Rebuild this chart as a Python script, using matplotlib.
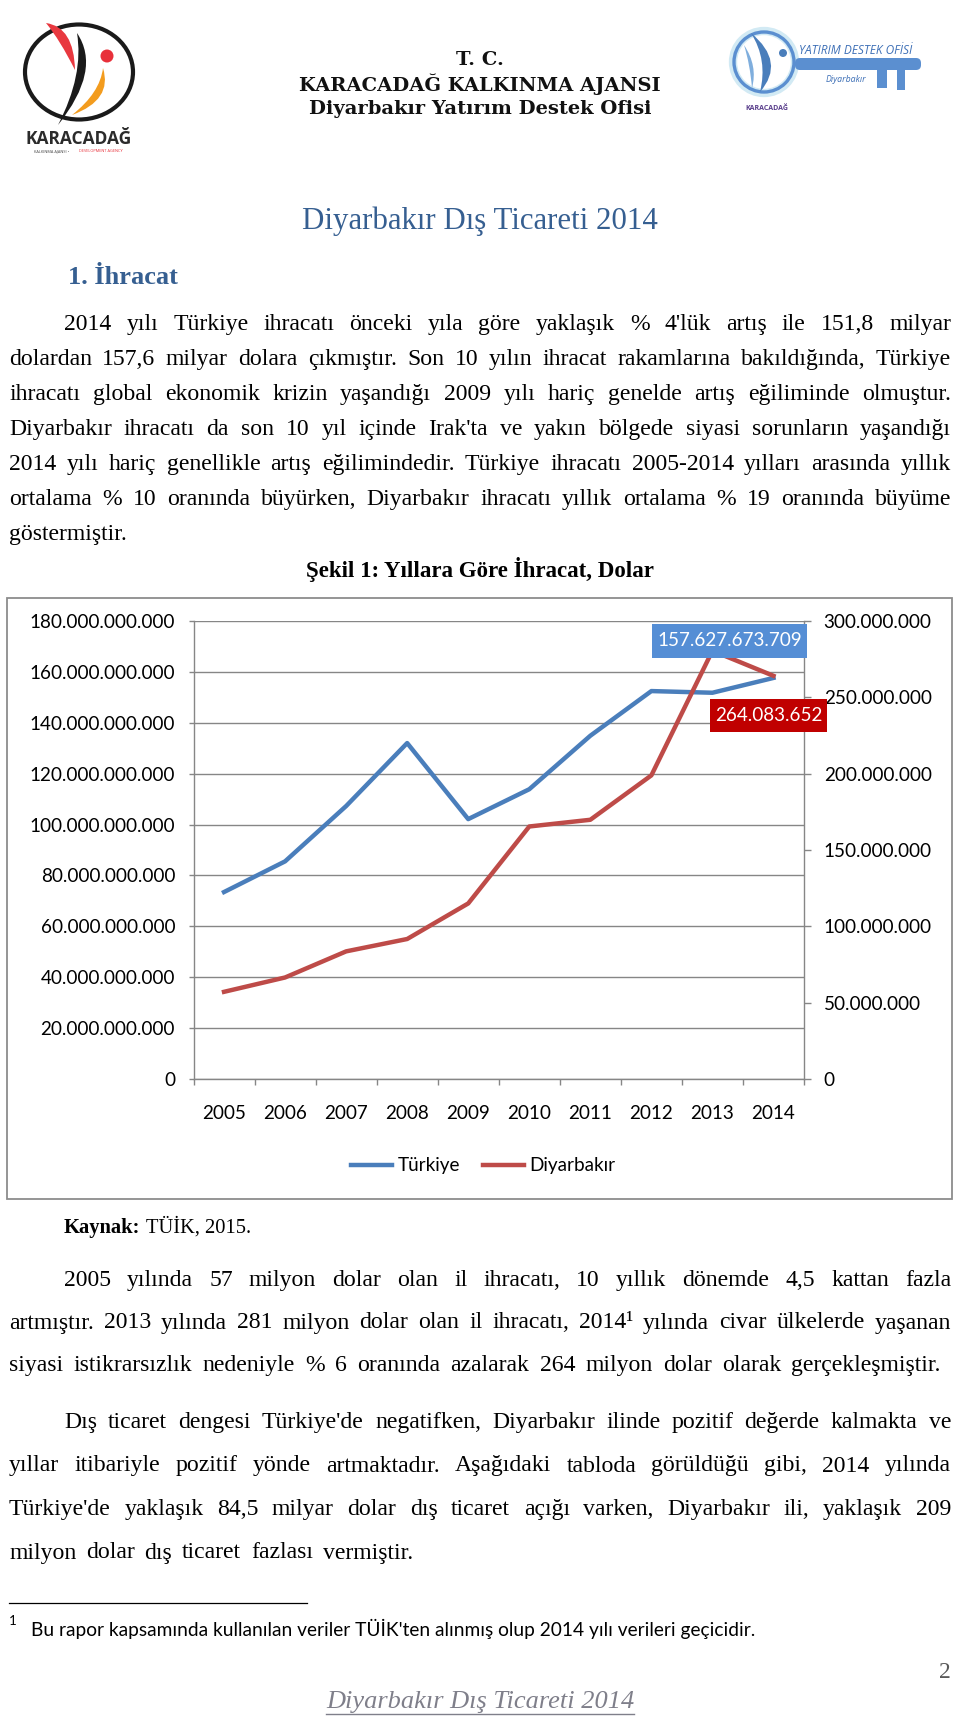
import matplotlib
matplotlib.use('Agg')
import numpy as np
import matplotlib.pyplot as plt
import matplotlib.ticker as mticker
from matplotlib.patches import Ellipse, Circle, Rectangle, FancyBboxPatch, PathPatch
from matplotlib.path import Path

# data (USD)
years = ['2005', '2006', '2007', '2008', '2009', '2010', '2011', '2012', '2013', '2014']
turkiye = [73476408143, 85534675518, 107271749904, 132027195527, 102142612603,
           113883219184, 134906868830, 152461736556, 151802637087, 157627673709]
diyarbakir = [57100000, 66500000, 83600000, 91700000, 115000000,
              165400000, 169800000, 198900000, 280500000, 264083652]
left_ticks = list(range(0, 180000000001, 20000000000))
right_ticks = list(range(0, 300000001, 50000000))

W, H = 960, 1718
BODY = 'Liberation Serif'
CHART = 'Lato'
fs_body = 17.1
fs_chart = 13.6

fig = plt.figure(figsize=(W / 100, H / 100), dpi=100)
page = fig.add_axes([0, 0, 1, 1])
page.set_xlim(0, W)
page.set_ylim(H, 0)
page.axis('off')
page.set_zorder(0)
rend = fig.canvas.get_renderer()


def crescent(p0, p1, c_out, c_in, color, ax):
    verts = [p0, c_out, p1, c_in, p0]
    codes = [Path.MOVETO, Path.CURVE3, Path.CURVE3, Path.CURVE3, Path.CURVE3]
    ax.add_patch(PathPatch(Path(verts, codes), fc=color, ec='none'))


# left logo
page.add_patch(Ellipse((79, 72), 108, 95, fill=False, ec='#1a1a1a', lw=3))
crescent((46, 23), (75, 70), (74, 27), (60, 40), '#E8383F', page)
crescent((77, 33), (58, 125), (102, 70), (84, 75), '#1a1a1a', page)
crescent((103, 68), (72, 115), (113, 100), (100, 93), '#F39C1E', page)
page.add_patch(Circle((107, 56), 6.5, fc='#E8303A', ec='none'))
page.text(79, 139, 'KARACADAĞ', ha='center', va='center', fontsize=12.5,
          family='Open Sans', weight='bold', color='#2b2b2b')
page.text(52, 151, 'KALKINMA AJANSI •', ha='center', va='center', fontsize=2.8,
          family='Open Sans', color='#444444')
page.text(101, 151, 'DEVELOPMENT AGENCY', ha='center', va='center', fontsize=2.8,
          family='Open Sans', color='#E8303A')

# right logo
page.add_patch(Circle((764, 62), 31, fill=False, ec='#D2EAF4', lw=6))
page.add_patch(Circle((764, 62), 30, fill=False, ec='#5B8FD0', lw=2.4))
crescent((751, 33), (760, 92), (786, 62), (768, 60), '#4A7EBB', page)
crescent((744, 45), (752, 88), (758, 66), (750, 64), '#7FAEDD', page)
page.add_patch(Circle((783, 53), 4, fc='#4A7EBB', ec='none'))
page.add_patch(FancyBboxPatch((795, 58), 126, 12, boxstyle='round,pad=0,rounding_size=5',
                              fc='#5B8FD0', ec='none'))
page.add_patch(Rectangle((877, 68), 10, 20, fc='#5B8FD0', ec='none'))
page.add_patch(Rectangle((897, 68), 8, 22, fc='#5B8FD0', ec='none'))
page.text(799, 50, 'YATIRIM DESTEK OFİSİ', ha='left', va='center', fontsize=8.6,
          family='Open Sans', style='italic', color='#3D6FB6')
page.text(826, 80, 'Diyarbakır', ha='left', va='center', fontsize=6.3,
          family='Open Sans', style='italic', color='#3D6FB6')
page.text(767, 108, 'KARACADAĞ', ha='center', va='center', fontsize=5,
          family='Open Sans', weight='bold', color='#5A3F8C')

# header
hdr = dict(ha='center', va='center', family='DejaVu Serif', weight='bold',
           fontsize=14, color='#111111')
page.text(480, 60, 'T. C.', **hdr)
page.text(480, 84, 'KARACADAĞ KALKINMA AJANSI', **hdr)
page.text(480, 109, 'Diyarbakır Yatırım Destek Ofisi', **hdr)

page.text(480, 221, 'Diyarbakır Dış Ticareti 2014', ha='center', va='center',
          family=BODY, fontsize=22.2, color='#365F91')
page.text(68, 278, '1. İhracat', ha='left', va='center', family=BODY,
          fontsize=19, weight='bold', color='#365F91')


def put_line(s, x0, x1, yc, just=True, size=fs_body):
    words = s.split(' ')
    ts = [page.text(0, yc + 6, w, ha='left', va='baseline', family=BODY,
                    fontsize=size, color='black') for w in words]
    ws = [t.get_window_extent(rend).width for t in ts]
    if just and len(words) > 1:
        gap = (x1 - x0 - sum(ws)) / (len(words) - 1)
    else:
        gap = size * 100 / 72 * 0.25
    x = x0
    for t, w in zip(ts, ws):
        t.set_x(x)
        x += w + gap


L, R, IND = 9, 951, 64
p1 = ["2014 yılı Türkiye ihracatı önceki yıla göre yaklaşık % 4'lük artış ile 151,8 milyar",
      "dolardan 157,6 milyar dolara çıkmıştır. Son 10 yılın ihracat rakamlarına bakıldığında, Türkiye",
      "ihracatı global ekonomik krizin yaşandığı 2009 yılı hariç genelde artış eğiliminde olmuştur.",
      "Diyarbakır ihracatı da son 10 yıl içinde Irak'ta ve yakın bölgede siyasi sorunların yaşandığı",
      "2014 yılı hariç genellikle artış eğilimindedir. Türkiye ihracatı 2005-2014 yılları arasında yıllık",
      "ortalama % 10 oranında büyürken, Diyarbakır ihracatı yıllık ortalama % 19 oranında büyüme",
      "göstermiştir."]
for i, s in enumerate(p1):
    put_line(s, IND if i == 0 else L, R, 324 + 35 * i, just=i < len(p1) - 1)

# last line of a paragraph keeps its own right end
p2 = ["2005 yılında 57 milyon dolar olan il ihracatı, 10 yıllık dönemde 4,5 kattan fazla",
      "artmıştır. 2013 yılında 281 milyon dolar olan il ihracatı, 2014¹ yılında civar ülkelerde yaşanan",
      "siyasi istikrarsızlık nedeniyle % 6 oranında azalarak 264 milyon dolar olarak gerçekleşmiştir."]
p2_end = [R, R, 941]
for i, s in enumerate(p2):
    put_line(s, IND if i == 0 else L, p2_end[i], 1280 + 42.5 * i)

p3 = ["Dış ticaret dengesi Türkiye'de negatifken, Diyarbakır ilinde pozitif değerde kalmakta ve",
      "yıllar itibariyle pozitif yönde artmaktadır. Aşağıdaki tabloda görüldüğü gibi, 2014 yılında",
      "Türkiye'de yaklaşık 84,5 milyar dolar dış ticaret açığı varken, Diyarbakır ili, yaklaşık 209",
      "milyon dolar dış ticaret fazlası vermiştir."]
p3_end = [R, R, R, 413]
for i, s in enumerate(p3):
    put_line(s, IND if i == 0 else L, p3_end[i], 1422 + 43.5 * i)

# source line
k = page.text(64, 1233, 'Kaynak:', ha='left', va='baseline', family=BODY,
              fontsize=14.8, weight='bold')
kw_ = k.get_window_extent(rend).width
page.text(64 + kw_ + 5, 1233, 'TÜİK, 2015.', ha='left', va='baseline', family=BODY,
          fontsize=14.8)

# footnote
page.plot([9, 307], [1603, 1603], color='black', lw=0.9)
page.text(9, 1621, '1', ha='left', va='center', family=CHART, fontsize=9.5)
page.text(31, 1629, "Bu rapor kapsamında kullanılan veriler TÜİK'ten alınmış olup 2014 yılı verileri geçicidir.",
          ha='left', va='center', family=CHART, fontsize=13.75)
page.text(951, 1673, '2', ha='right', va='center', family=BODY, fontsize=17, color='#595959')
ft = page.text(480, 1702, 'Diyarbakır Dış Ticareti 2014', ha='center', va='center',
               family=BODY, style='italic', fontsize=19, color='#7F7F8A')
fw = ft.get_window_extent(rend).width
page.plot([480 - fw / 2, 480 + fw / 2], [1714, 1714], color='#7F7F8A', lw=1)

# chart frame
page.add_patch(Rectangle((7, 598), 945, 601, fill=False, ec='#8C8C8C', lw=1.3))
page.text(480, 569, 'Şekil 1: Yıllara Göre İhracat, Dolar', ha='center', va='center',
          family=BODY, weight='bold', fontsize=16.5)

# chart axes
grey = '#868686'
ax = fig.add_axes([193.5 / W, 1 - 1079 / H, 610.5 / W, 458 / H])
ax.set_zorder(1)
ax.patch.set_alpha(0)
ax2 = ax.twinx()
ax2.set_zorder(2)

x = np.arange(len(years))
l1, = ax.plot(x, turkiye, color='#4A7EBB', lw=3.2, solid_joinstyle='round', label='Türkiye')
l2, = ax2.plot(x, diyarbakir, color='#BE4B48', lw=3.2, solid_joinstyle='round', label='Diyarbakır')

fmt = mticker.FuncFormatter(lambda v, p: '0' if v == 0 else f'{v:,.0f}'.replace(',', '.'))
ax.set_xlim(-0.5, len(years) - 0.5)
ax.set_ylim(0, 180e9)
ax.set_yticks(left_ticks)
ax.yaxis.set_major_formatter(fmt)
ax2.set_ylim(0, 300e6)
ax2.set_yticks(right_ticks)
ax2.yaxis.set_major_formatter(fmt)
ax.set_xticks(x)
ax.set_xticklabels(years)
ax.set_xticks(np.arange(-0.5, len(years), 1), minor=True)

ax.yaxis.grid(True, color=grey, lw=1.0)
ax.set_axisbelow(True)
for a in (ax, ax2):
    for s in a.spines.values():
        s.set_visible(False)
ax.spines['left'].set_visible(True)
ax.spines['bottom'].set_visible(True)
ax2.spines['right'].set_visible(True)
for s in (ax.spines['left'], ax.spines['bottom'], ax2.spines['right']):
    s.set_color(grey)
    s.set_linewidth(1.0)

ax.tick_params(axis='y', length=3.8, width=1.0, color=grey, pad=9.5, labelsize=fs_chart)
ax.tick_params(axis='x', which='major', length=0, pad=19, labelsize=fs_chart)
ax.tick_params(axis='x', which='minor', length=4.5, width=1.0, color=grey)
ax2.tick_params(axis='y', length=5, width=1.0, color=grey, pad=9.2, labelsize=fs_chart)
for t in ax.get_xticklabels() + ax.get_yticklabels() + ax2.get_yticklabels():
    t.set_family(CHART)

ax2.annotate(f'{turkiye[-1]:,.0f}'.replace(',', '.'), xy=(x[-1], turkiye[-1]),
             xycoords=ax.transData, xytext=(-44, 37), textcoords='offset pixels',
             ha='center', va='center', fontsize=fs_chart, family=CHART, color='white',
             bbox=dict(boxstyle='square,pad=0.27', mutation_aspect=1.6,
                       fc='#558ED5', ec='none'), zorder=10)
ax2.annotate(f'{diyarbakir[-1]:,.0f}'.replace(',', '.'), xy=(x[-1], diyarbakir[-1]),
             xytext=(-5, -40), textcoords='offset pixels',
             ha='center', va='center', fontsize=fs_chart, family=CHART, color='white',
             bbox=dict(boxstyle='square,pad=0.27', mutation_aspect=1.6,
                       fc='#C00000', ec='none'), zorder=10)

fig.legend(handles=[l1, l2], loc='center', bbox_to_anchor=(483 / W, 1 - 1166 / H),
           ncol=2, frameon=False, handlelength=2.2, handletextpad=0.28,
           columnspacing=1.2, prop={'family': CHART, 'size': fs_chart})

fig.savefig('out.png', dpi=100)
